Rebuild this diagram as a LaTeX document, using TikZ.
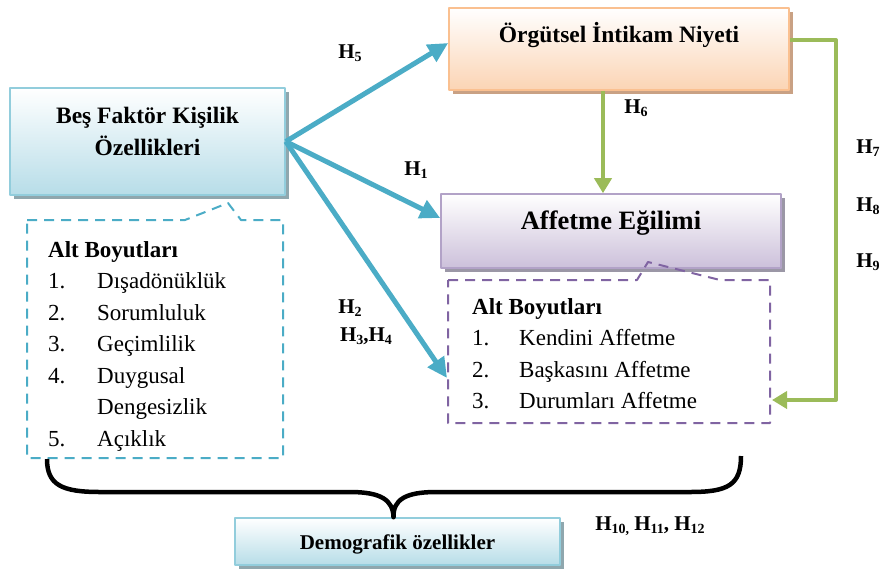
\documentclass[tikz,border=0pt]{standalone}
\usepackage{fontspec}
\setmainfont{Liberation Serif}
\usetikzlibrary{calc}
\usetikzlibrary{positioning}
\usetikzlibrary{shadows}
\usetikzlibrary{arrows.meta}

\definecolor{tealA}{HTML}{4BACC6}
\definecolor{greenA}{HTML}{9BBB59}
\definecolor{purpleA}{HTML}{8064A2}
\definecolor{cyanBot}{HTML}{B7DDE8}
\definecolor{cyanLine}{HTML}{92CDDC}
\definecolor{cyanShade}{HTML}{8FA7AE}
\definecolor{orangeBot}{HTML}{FBD4B4}
\definecolor{orangeLine}{HTML}{FAC090}
\definecolor{orangeShade}{HTML}{C9A184}
\definecolor{lilacBot}{HTML}{CCC0DA}
\definecolor{lilacLine}{HTML}{B2A2C7}
\definecolor{lilacShade}{HTML}{9B97A6}

\newcommand{\hyp}[1]{H\raisebox{-0.35ex}{\fontsize{14}{14}\selectfont #1}}
\newcommand{\itm}[2][49pt]{\makebox[#1][l]{#2}}

\tikzset{
  box/.style={rectangle, line width=1.6pt, inner sep=0pt, top color=white},
  cyanbox/.style={box, draw=cyanLine, bottom color=cyanBot,
    drop shadow={shadow xshift=3.5pt, shadow yshift=-3.5pt, fill=cyanShade, opacity=1}},
  orangebox/.style={box, draw=orangeLine, bottom color=orangeBot,
    drop shadow={shadow xshift=3.5pt, shadow yshift=-3.5pt, fill=orangeShade, opacity=1}},
  lilacbox/.style={box, draw=lilacLine, bottom color=lilacBot,
    drop shadow={shadow xshift=3.5pt, shadow yshift=-3.5pt, fill=lilacShade, opacity=1}},
  title/.style={align=center, inner sep=0pt, font=\fontsize{23.5}{32}\selectfont\bfseries},
  listtext/.style={align=left, inner sep=0pt, anchor=north west, font=\fontsize{23}{31.5}\selectfont},
  hlabel/.style={inner sep=0pt, font=\fontsize{21}{24}\selectfont\bfseries},
  tealarrow/.style={draw=tealA, line width=5pt, -{Triangle[length=20pt, width=19pt]}},
  greenarrow/.style={draw=greenA, line width=4pt, -{Triangle[length=15pt, width=17pt]}},
  callout/.style={dashed, dash pattern=on 10pt off 7pt, line width=2pt}
}

\begin{document}
\begin{tikzpicture}[x=1pt, y=-1pt, line join=round]
  \useasboundingbox (0,0) rectangle (883,571);

  % callouts
  \draw[callout, draw=tealA] (27,220) -- (185,220) -- (228,203) -- (241,220) -- (283,220)
    -- (283,458) -- (27,458) -- cycle;
  \node[listtext] (bigList) at (48,241) {\textbf{Alt Boyutları}\\
    \itm{1.}Dışadönüklük\\ \itm{2.}Sorumluluk\\ \itm{3.}Geçimlilik\\
    \itm{4.}Duygusal\\ \itm{}Dengesizlik\\ \itm{5.}Açıklık};

  % boxes
  \node[cyanbox, minimum width=275pt, minimum height=107pt] (big5) at (147.5,141.5) {};
  \node[title] (big5Text) at ([yshift=10pt]big5.center) {Beş Faktör Kişilik\\Özellikleri};
  \node[orangebox, minimum width=340pt, minimum height=82pt] (orange) at (619,49) {};
  \node[title] (orangeText) at ([yshift=14pt]orange.center) {Örgütsel İntikam Niyeti};
  \node[lilacbox, minimum width=340pt, minimum height=74pt] (aff) at (611,231) {};
  \node[title, font=\fontsize{26.5}{32}\selectfont\bfseries] (affText) at ([yshift=8pt]aff.center) {Affetme Eğilimi};
  \node[cyanbox, minimum width=325pt, minimum height=47pt] (demog) at (397.5,541.5) {};
  \node[title, font=\fontsize{21}{26}\selectfont\bfseries] (demogText) at ([yshift=-3pt]demog.center) {Demografik özellikler};

  \draw[callout, draw=purpleA] (448,280) -- (637,280) -- (648,262) -- (720,280) -- (770,280)
    -- (770,423) -- (448,423) -- cycle;
  \node[listtext] (affList) at (472,298) {\textbf{Alt Boyutları}\\
    \itm[47pt]{1.}Kendini Affetme\\ \itm[47pt]{2.}Başkasını Affetme\\ \itm[47pt]{3.}Durumları Affetme};

  % arrows
  \coordinate (h2end) at (447,378);
  \coordinate (h7end) at (772,400);
  \draw[tealarrow] (big5.east) -- ([yshift=6pt]orange.west);
  \draw[tealarrow] (big5.east) -- ([yshift=13pt]aff.west);
  \draw[tealarrow] (big5.east) -- (h2end);
  \draw[greenarrow] ([xshift=-16pt]orange.south) -- ([xshift=-16pt]orange.south |- aff.north);
  \draw[greenarrow] ([yshift=9pt]orange.east) -- ++(46,0) |- (h7end);

  % brace
  \draw[line width=4.5pt] (47,459) .. controls (47,485) and (62,492) .. (100,492) -- (350,492)
    .. controls (381,492) and (393,500) .. ([xshift=-4pt]demog.north)
    .. controls (393,500) and (405,492) .. (436,492) -- (690,492)
    .. controls (728,492) and (741,485) .. (741,456);

  % labels
  \node[hlabel] (lH5) at (350,53) {\hyp{5}};
  \node[hlabel] (lH1) at (416,170) {\hyp{1}};
  \node[hlabel] (lH2) at (350,308) {\hyp{2}};
  \node[hlabel] (lH34) at (366,336) {\hyp{3},\hyp{4}};
  \node[hlabel] (lH6) at (636,108) {\hyp{6}};
  \node[hlabel] (lH7) at (868,148) {\hyp{7}};
  \node[hlabel] (lH8) at (868,206) {\hyp{8}};
  \node[hlabel] (lH9) at (868,262) {\hyp{9}};
  \node[hlabel] (lH10) at (650,526) {\hyp{10,} \hyp{11}, \hyp{12}};
\end{tikzpicture}
\end{document}
